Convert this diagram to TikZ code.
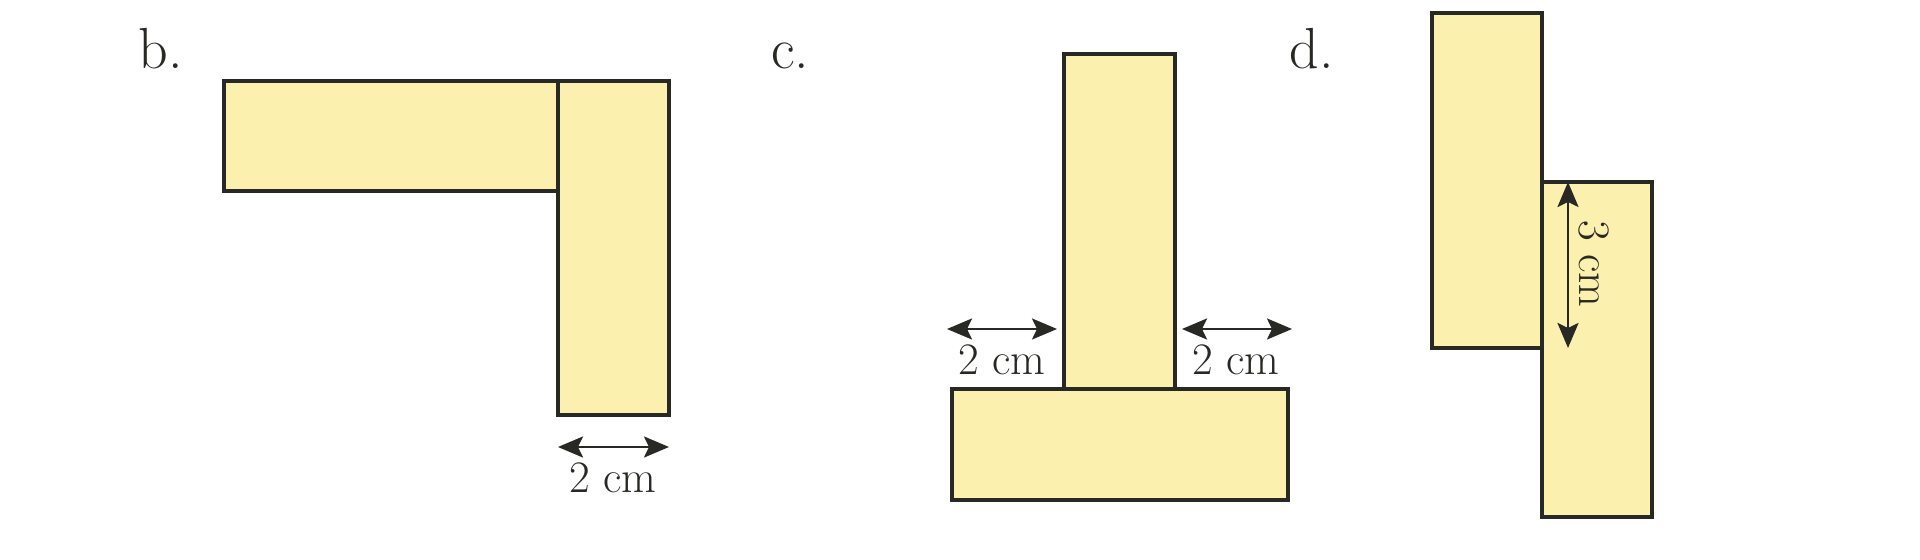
\documentclass[tikz,border=0pt]{standalone}
\usetikzlibrary{arrows.meta}
\definecolor{padfill}{RGB}{252,240,174}
\definecolor{ink}{RGB}{40,40,36}
\begin{document}
\begin{tikzpicture}[x=0.5pt,y=-0.5pt,
  pad/.style={draw=ink,fill=padfill,line width=1.8pt,inner sep=0pt,outer sep=0pt,anchor=north west},
  dim/.style={draw=ink,line width=1.2pt,{Stealth[length=12.5pt,width=10.5pt,inset=2.5pt]}-{Stealth[length=12.5pt,width=10.5pt,inset=2.5pt]}},
  lbl/.style={text=ink,inner sep=0pt,anchor=base west,font=\fontsize{29}{32}\selectfont},
  dimtxt/.style={text=ink,inner sep=0pt,anchor=base,font=\fontsize{22.5}{25}\selectfont}]
\useasboundingbox (0,0) rectangle (1920,560);
% b.
\node[lbl] (lb) at (138,69) {b.};
\node[pad,minimum width=167pt,minimum height=55pt] (bh) at (224,81) {};
\node[pad,minimum width=55.5pt,minimum height=167pt] (bv) at (558,81) {};
\coordinate (b1) at (558,447);
\coordinate (b2) at (669,447);
\draw[dim] (b1) -- (b2);
\node[dimtxt] (tb) at (613,493) {2 cm};
% c.
\node[lbl] (lc) at (771,69) {c.};
\node[pad,minimum width=55.5pt,minimum height=167.5pt] (cv) at (1064,54) {};
\node[pad,minimum width=168pt,minimum height=55.5pt] (ch) at (952,389) {};
\coordinate (c1) at (947,329);
\coordinate (c2) at (1057,329);
\coordinate (c3) at (1182,329);
\coordinate (c4) at (1292,329);
\draw[dim] (c1) -- (c2);
\draw[dim] (c3) -- (c4);
\node[dimtxt] (tc1) at (1002,375) {2 cm};
\node[dimtxt] (tc2) at (1236,375) {2 cm};
% d.
\node[lbl] (ld) at (1289,69) {d.};
\node[pad,minimum width=55pt,minimum height=167.5pt] (dl) at (1432,13) {};
\node[pad,minimum width=55pt,minimum height=167.5pt] (dr) at (1542,182) {};
\coordinate (d1) at (1568,182);
\coordinate (d2) at (1568,348);
\draw[dim] (d1) -- (d2);
\node[text=ink,inner sep=0pt,rotate=-90,font=\fontsize{22.5}{25}\selectfont] (td) at (1594,264) {3 cm};
\end{tikzpicture}
\end{document}
